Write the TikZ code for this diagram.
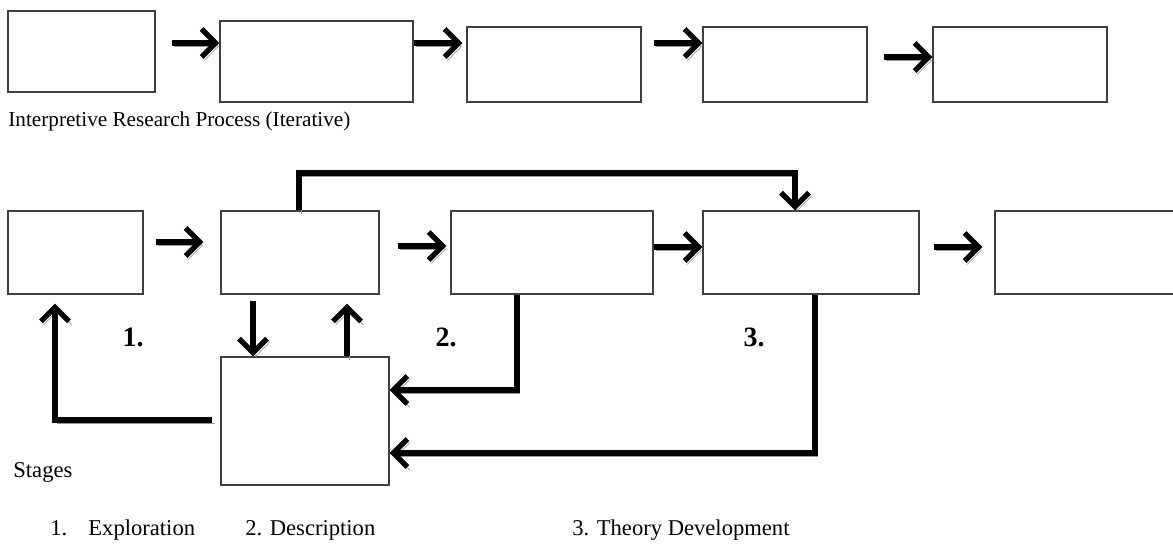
\documentclass[tikz,border=0pt]{standalone}
\usepackage{fontspec}
\setmainfont{Liberation Serif}
\usetikzlibrary{arrows.meta}

\begin{document}
\begin{tikzpicture}[x=0.5pt, y=-0.5pt,
        box/.style={rectangle, draw=black!75, line width=0.6pt, fill=white, inner sep=0pt},
        flow/.style={line width=2.7pt, -{Straight Barb[length=7pt, width=14pt]},
            preaction={draw=black!40, transform canvas={shift={(1.3pt,-1.7pt)}}}},
        lbl/.style={anchor=base west, inner sep=0pt, font=\fontsize{11.3}{13}\selectfont},
        num/.style={inner sep=0pt, font=\fontsize{14}{16}\selectfont\bfseries}]
        \clip (0,0) rectangle (1173,550);
        % top row
        \node[box, minimum width=73.5pt, minimum height=40.5pt] (T1) at (81.5,51.5) {};
        \node[box, minimum width=96.5pt, minimum height=40.5pt] (T2) at (316.5,61.5) {};
        \node[box, minimum width=87pt, minimum height=37.5pt] (T3) at (554,64.5) {};
        \node[box, minimum width=82pt, minimum height=37.5pt] (T4) at (785,64.5) {};
        \node[box, minimum width=87pt, minimum height=37.5pt] (T5) at (1020,64.5) {};
        \draw[flow, shorten <=8pt] (T1.east |- 0,43) -- (T2.west |- 0,43);
        \draw[flow, shorten >=2pt] (T2.east |- 0,43) -- (T3.west |- 0,43);
        \draw[flow, shorten <=6pt] (T3.east |- 0,43) -- (T4.west |- 0,43);
        \draw[flow, shorten <=8pt] (T4.east |- 0,57) -- (T5.west |- 0,57);
        \node[lbl, font=\fontsize{10.6}{13}\selectfont] (process) at (8,127) {Interpretive Research Process (Iterative)};
        % stages row
        \node[box, minimum width=67.5pt, minimum height=41.5pt] (B1) at (75.5,252.5) {};
        \node[box, minimum width=79pt, minimum height=41.5pt] (B2) at (300,252.5) {};
        \node[box, minimum width=101pt, minimum height=41.5pt] (B3) at (552,252.5) {};
        \node[box, minimum width=108pt, minimum height=41.5pt] (B4) at (811,252.5) {};
        \node[box, minimum width=95pt, minimum height=41.5pt] (B5) at (1090,252.5) {};
        \node[box, minimum width=84pt, minimum height=64pt] (C) at (305,421) {};
        \draw[flow, shorten <=6pt, shorten >=8.5pt] (B1.east |- 0,242) -- (B2.west |- 0,242);
        \draw[flow, shorten <=9pt, shorten >=2pt] (B2.east |- 0,246) -- (B3.west |- 0,246);
        \draw[flow] (B3.east |- 0,247) -- (B4.west |- 0,247);
        \draw[flow, shorten <=7pt, shorten >=6pt] (B4.east |- 0,247) -- (B5.west |- 0,247);
        \coordinate (over) at (795,173);
        \draw[flow] (B2.north -| 299,0) |- (over) -- (over |- B4.north);
        \draw[flow, shorten <=3pt] (B2.south -| 253,0) -- (C.north -| 253,0);
        \draw[flow, shorten >=4.5pt] (C.north -| 347,0) -- (B2.south -| 347,0);
        \draw[flow, shorten <=4pt, shorten >=4.5pt] (C.west |- 0,420) -| (B1.south -| 55,0);
        \draw[flow] (B3.south -| 517,0) |- (C.east |- 0,390);
        \draw[flow] (B4.south -| 815,0) |- (C.east |- 0,453);
        \node[num] (one) at (133,337) {1.};
        \node[num] (two) at (446,337) {2.};
        \node[num] (three) at (754,337) {3.};
        \node[lbl] (stages) at (13,478) {Stages};
        % legend
        \node[lbl] (n1) at (50,536) {1.};
        \node[lbl] (explore) at (88,536) {Exploration};
        \node[lbl] (describe) at (245,536) {2. Description};
        \node[lbl] (theory) at (572,536) {3. Theory Development};
\end{tikzpicture}
\end{document}
